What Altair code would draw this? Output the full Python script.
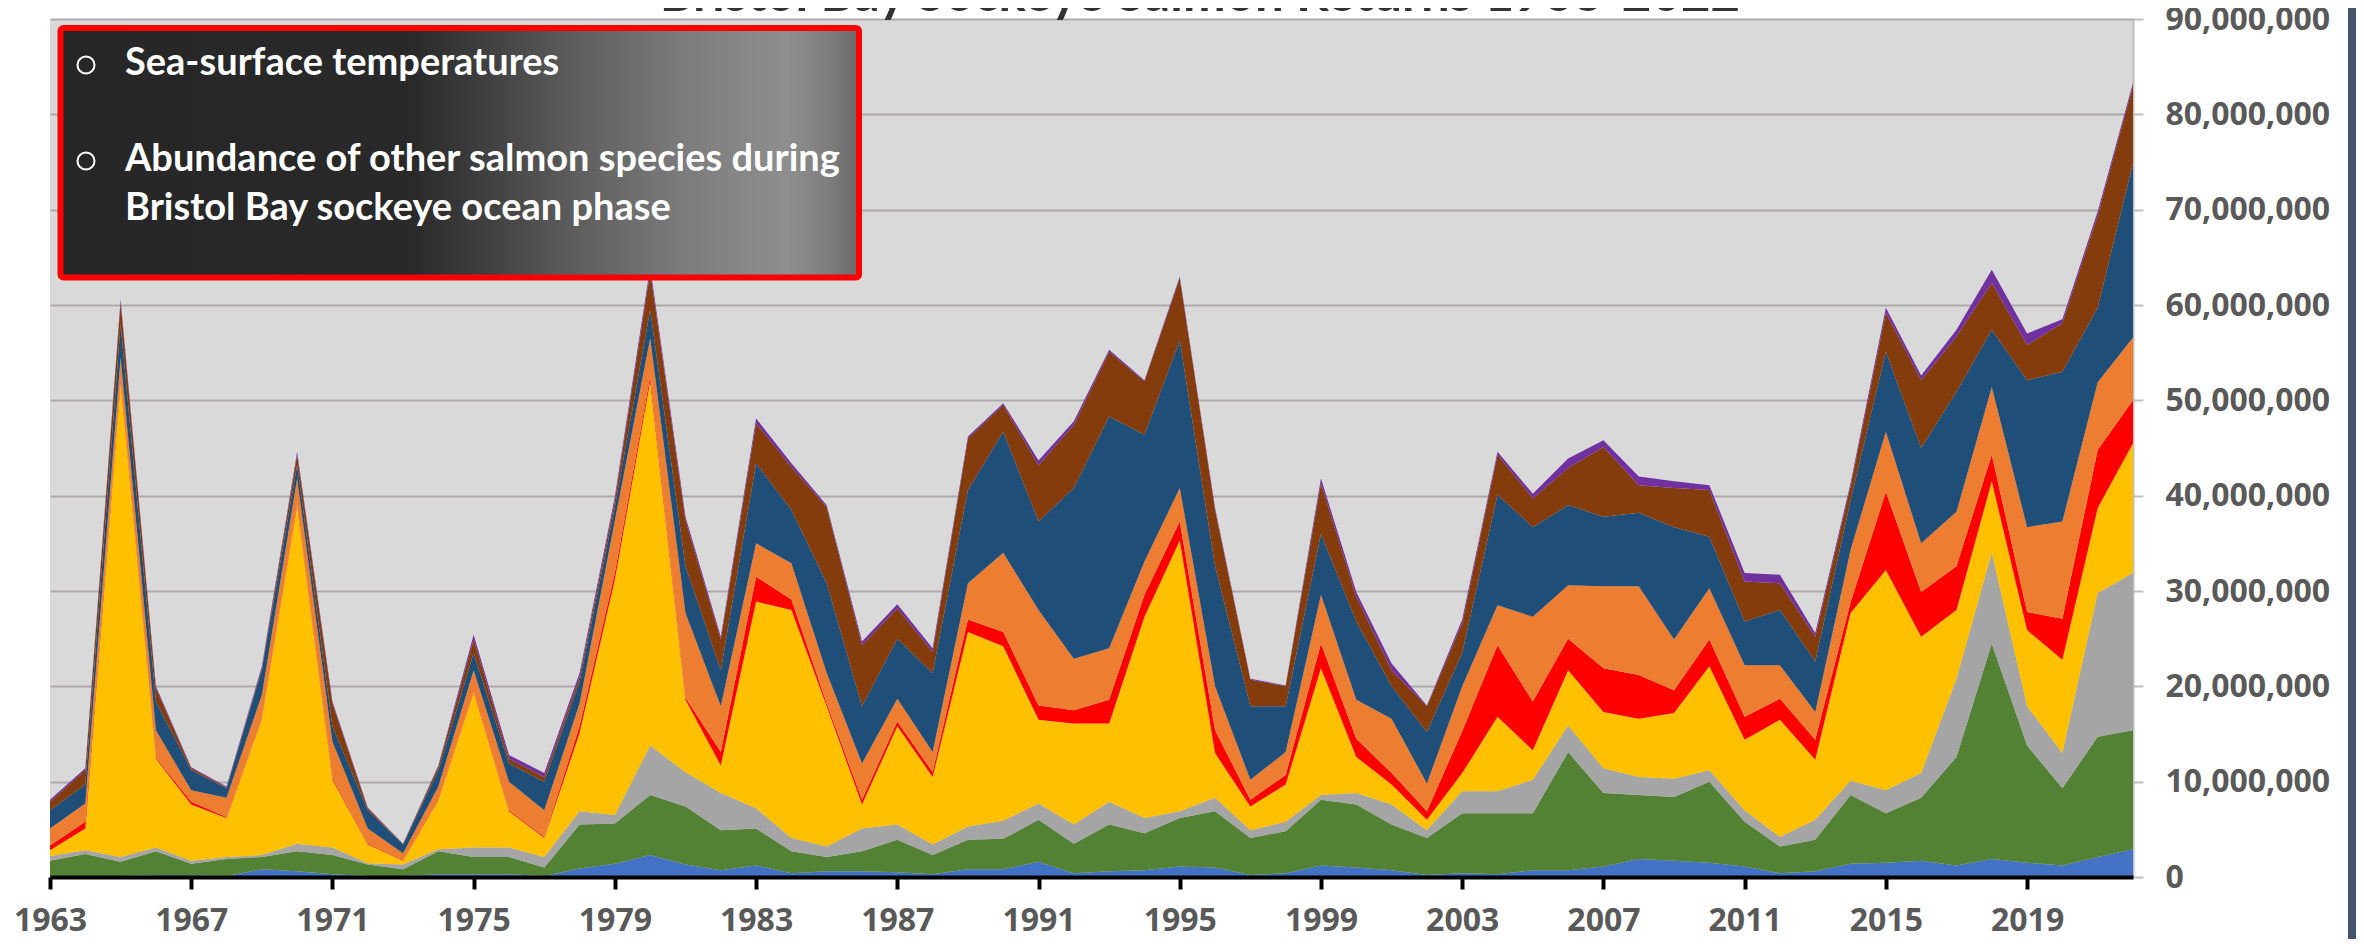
import altair as alt
import pandas as pd

# ---------------- data (millions of fish) ----------------
years = list(range(1963, 2023))

series_names = ["Igushik", "Wood", "Nushagak", "Kvichak", "Alagnak",
                "Naknek", "Egegik", "Ugashik", "Togiak"]
series_colors = ["#4472C4", "#548235", "#A5A5A5", "#FFC000", "#FF0000",
                 "#ED7D31", "#1F4E79", "#843C0C", "#7030A0"]

igushik = [0.1, 0.1, 0.1, 0.2, 0.2, 0.1, 0.8, 0.6, 0.3, 0.1,
           0.1, 0.3, 0.3, 0.3, 0.1, 0.9, 1.4, 2.3, 1.3, 0.7,
           1.2, 0.4, 0.6, 0.6, 0.5, 0.3, 0.8, 0.8, 1.6, 0.4,
           0.6, 0.7, 1.1, 1.0, 0.2, 0.4, 1.2, 1.0, 0.7, 0.2,
           0.4, 0.3, 0.7, 0.7, 1.1, 1.9, 1.7, 1.5, 1.1, 0.4,
           0.6, 1.4, 1.5, 1.7, 1.2, 1.9, 1.5, 1.2, 2.1, 2.9]
wood = [1.6, 2.3, 1.5, 2.5, 1.2, 1.8, 1.3, 2.1, 2.0, 1.2,
        0.7, 2.4, 1.8, 1.8, 0.9, 4.6, 4.2, 6.3, 6.1, 4.2,
        3.9, 2.3, 1.5, 2.1, 3.4, 2.0, 3.1, 3.2, 4.4, 3.1,
        4.9, 3.9, 5.1, 5.9, 3.9, 4.4, 6.9, 6.6, 4.8, 3.9,
        6.3, 6.4, 6.0, 12.4, 7.7, 6.7, 6.7, 8.5, 4.7, 2.8,
        3.3, 7.2, 5.2, 6.6, 11.4, 22.6, 12.3, 8.1, 12.6, 12.5]
nushagak = [0.5, 0.4, 0.5, 0.4, 0.3, 0.2, 0.2, 0.8, 0.8, 0.15,
            0.5, 0.2, 1.0, 1.0, 1.1, 1.4, 0.9, 5.2, 3.6, 3.9,
            2.1, 1.4, 1.1, 2.4, 1.6, 1.1, 1.4, 1.9, 1.7, 2.0,
            2.4, 1.6, 0.7, 1.4, 0.8, 1.0, 0.5, 1.2, 2.1, 0.8,
            2.3, 2.3, 3.5, 2.8, 2.6, 1.9, 1.9, 1.2, 1.2, 1.0,
            2.1, 1.5, 2.4, 2.6, 8.2, 9.5, 4.1, 3.7, 15.1, 16.5]
kvichak = [0.6, 2.3, 49.9, 9.3, 5.9, 4.1, 14.3, 35.5, 7.1, 1.95,
           0.4, 5.2, 16.3, 3.8, 2.0, 8.2, 24.7, 38.2, 7.6, 2.9,
           21.7, 23.9, 14.7, 2.5, 10.3, 7.1, 20.4, 18.3, 8.8, 10.6,
           8.2, 21.1, 28.4, 4.7, 2.5, 3.9, 13.3, 3.8, 2.1, 1.1,
           1.9, 7.8, 3.1, 5.8, 5.9, 6.1, 6.9, 10.9, 7.4, 12.3,
           6.3, 17.6, 23.1, 14.3, 7.2, 7.5, 8.0, 9.8, 8.9, 13.6]
alagnak = [0.5, 0.7, 0.3, 0.1, 0.3, 0.1, 0.1, 0.2, 0.15, 0.1,
           0.05, 0.1, 0.1, 0.1, 0.1, 0.7, 0.7, 0.5, 0.2, 1.4,
           2.6, 1.1, 0.3, 0.5, 0.5, 0.5, 1.3, 1.5, 1.5, 1.4,
           2.5, 2.3, 2.0, 2.4, 0.7, 1.0, 2.6, 1.9, 1.2, 0.9,
           4.4, 7.5, 5.1, 3.3, 4.6, 4.6, 2.4, 2.8, 2.4, 2.2,
           2.1, 1.1, 8.2, 4.7, 4.6, 2.8, 1.9, 4.3, 6.1, 4.5]
naknek = [1.8, 1.9, 2.2, 2.9, 1.2, 2.0, 2.4, 2.6, 3.85, 1.6,
          0.75, 1.3, 2.2, 3.0, 2.8, 2.4, 5.5, 4.0, 8.9, 4.8,
          3.5, 3.8, 3.2, 3.8, 2.4, 2.1, 3.8, 8.3, 10.0, 5.4,
          5.4, 3.5, 3.5, 4.6, 2.1, 2.4, 5.1, 4.1, 5.7, 2.9,
          4.7, 4.2, 8.9, 5.6, 8.6, 9.3, 5.3, 5.4, 5.4, 3.5,
          2.9, 5.5, 6.3, 5.1, 5.7, 7.1, 8.9, 10.2, 7.1, 6.6]
egegik = [1.9, 2.0, 3.5, 3.0, 2.1, 1.0, 2.6, 1.4, 1.6, 1.9,
          0.9, 1.7, 1.8, 1.9, 3.0, 2.3, 1.4, 3.0, 4.9, 3.8,
          8.4, 5.6, 9.4, 6.0, 6.3, 8.3, 9.8, 12.7, 9.3, 17.9,
          24.3, 13.3, 15.5, 12.6, 7.7, 4.8, 6.4, 8.2, 3.4, 5.4,
          3.5, 11.6, 9.4, 8.4, 7.3, 7.7, 11.8, 5.4, 4.6, 5.8,
          5.3, 5.2, 8.4, 10.0, 12.6, 6.0, 15.4, 15.7, 7.8, 18.3]
ugashik = [0.9, 1.5, 2.3, 1.4, 0.2, 0.1, 0.2, 1.1, 2.4, 0.2,
           0.05, 0.4, 1.4, 0.5, 0.5, 0.5, 0.7, 4.0, 4.8, 3.2,
           4.2, 4.5, 8.0, 6.4, 3.2, 2.2, 5.4, 2.8, 5.9, 6.6,
           6.8, 5.6, 6.5, 5.9, 2.8, 2.1, 5.3, 2.6, 1.7, 2.7,
           3.1, 4.2, 3.0, 3.9, 7.3, 2.9, 4.1, 4.9, 4.2, 2.8,
           2.6, 1.5, 4.1, 7.1, 5.8, 4.9, 3.7, 5.1, 9.7, 8.1]
togiak = [0.2, 0.2, 0.3, 0.2, 0.1, 0.1, 0.2, 0.3, 0.2, 0.1,
          0.05, 0.1, 0.5, 0.4, 0.4, 0.4, 0.4, 0.5, 0.4, 0.3,
          0.5, 0.4, 0.2, 0.4, 0.4, 0.4, 0.2, 0.2, 0.5, 0.4,
          0.2, 0.1, 0.2, 0.2, 0.1, 0.1, 0.5, 0.5, 0.7, 0.1,
          0.4, 0.3, 0.5, 1.0, 0.7, 0.9, 0.7, 0.5, 0.9, 0.9,
          0.4, 0.3, 0.5, 0.5, 0.7, 1.4, 1.2, 0.4, 0.4, 0.3]

series_values = [igushik, wood, nushagak, kvichak, alagnak,
                 naknek, egegik, ugashik, togiak]

year_ticks = list(range(1963, 2020, 4))
y_ticks = list(range(0, 90_000_001, 10_000_000))

title_text = "Bristol Bay Sockeye Salmon Returns 1963-2022"
box_lines = ["Sea-surface temperatures",
             "Abundance of other salmon species during",
             "Bristol Bay sockeye ocean phase"]

# ---------------- long table ----------------
rows = []
for i, (name, vals) in enumerate(zip(series_names, series_values)):
    for yr, v in zip(years, vals):
        rows.append({"year": yr, "series": name, "stack_order": i,
                     "returns": v * 1_000_000})
df = pd.DataFrame(rows)

W, H = 2083, 858
LABEL_FONT = "Open Sans"
LABEL_COLOR = "#595959"

area = alt.Chart(df).mark_area(opacity=1, strokeWidth=0).encode(
    x=alt.X("year:Q",
            scale=alt.Scale(domain=[1963, 2022], nice=False, zero=False),
            axis=alt.Axis(values=year_ticks, format="d", title=None, grid=False,
                          labelFont=LABEL_FONT, labelFontSize=32,
                          labelFontWeight="bold", labelColor=LABEL_COLOR,
                          labelFlush=False, labelOverlap=False, labelPadding=16,
                          domainColor="#000000", domainWidth=4,
                          tickColor="#000000", tickWidth=4, tickSize=12,
                          zindex=1)),
    y=alt.Y("returns:Q", stack="zero",
            scale=alt.Scale(domain=[0, 90_000_000], nice=False),
            axis=alt.Axis(orient="right", values=y_ticks, format=",d", title=None,
                          grid=True, gridColor="#AEAAAA", gridWidth=2,
                          labelFont=LABEL_FONT, labelFontSize=32,
                          labelFontWeight="bold", labelColor=LABEL_COLOR,
                          labelAlign="left", labelPadding=22, labelOverlap=False,
                          domainColor="#BFBFBF", domainWidth=2,
                          tickColor="#BFBFBF", tickWidth=2, tickSize=10)),
    color=alt.Color("series:N",
                    scale=alt.Scale(domain=series_names, range=series_colors),
                    legend=None),
    order=alt.Order("stack_order:Q", sort="ascending"),
)

one = pd.DataFrame({"k": [0]})

# text box with gradient fill and red border
box_fill = alt.Gradient(
    gradient="linear", x1=0, y1=0, x2=1, y2=0,
    stops=[alt.GradientStop(offset=0.0, color="#262626"),
           alt.GradientStop(offset=0.44, color="#292929"),
           alt.GradientStop(offset=0.55, color="#444444"),
           alt.GradientStop(offset=0.65, color="#5f5f5f"),
           alt.GradientStop(offset=0.78, color="#7c7c7c"),
           alt.GradientStop(offset=0.91, color="#8e8e8e"),
           alt.GradientStop(offset=0.96, color="#7e7e7e"),
           alt.GradientStop(offset=1.0, color="#6a6a6a")])

box = alt.Chart(one).mark_rect(fill=box_fill, stroke="#FF0000", strokeWidth=6,
                               cornerRadius=3).encode(
    x=alt.value(10.5), x2=alt.value(809), y=alt.value(9), y2=alt.value(258.5))

bullets = [
    alt.Chart(one).mark_point(shape="circle", filled=False, stroke="#FFFFFF",
                              strokeWidth=2, size=290, opacity=1).encode(
        x=alt.value(36), y=alt.value(yy))
    for yy in (46, 142)
]

line_y = [56, 152, 201]
texts = [
    alt.Chart(pd.DataFrame({"t": [txt]})).mark_text(
        font="Lato", fontSize=38, fontWeight="bold", color="#FFFFFF",
        align="left", baseline="alphabetic").encode(
        text="t:N", x=alt.value(75), y=alt.value(yy))
    for txt, yy in zip(box_lines, line_y)
]

title = alt.Chart(pd.DataFrame({"t": [title_text]})).mark_text(
    font="Lato", fontSize=51, fontWeight="bold", color="#333333",
    align="center", baseline="alphabetic").encode(
    text="t:N", x=alt.value(1150), y=alt.value(-8))

side_bar = alt.Chart(one).mark_rect(color="#44546A").encode(
    x=alt.value(2298), x2=alt.value(2310), y=alt.value(-11), y2=alt.value(925))

chart = alt.layer(area, box, *bullets, *texts, title, side_bar).properties(
    width=W, height=H,
    padding={"left": 42, "top": 11, "right": 223, "bottom": 62},
    autosize=alt.AutoSizeParams(type="none"),
    background="#FFFFFF",
).configure_view(fill="#D9D9D9", stroke=None)

chart.save("out.html", embed_options={"renderer": "svg", "actions": False})
